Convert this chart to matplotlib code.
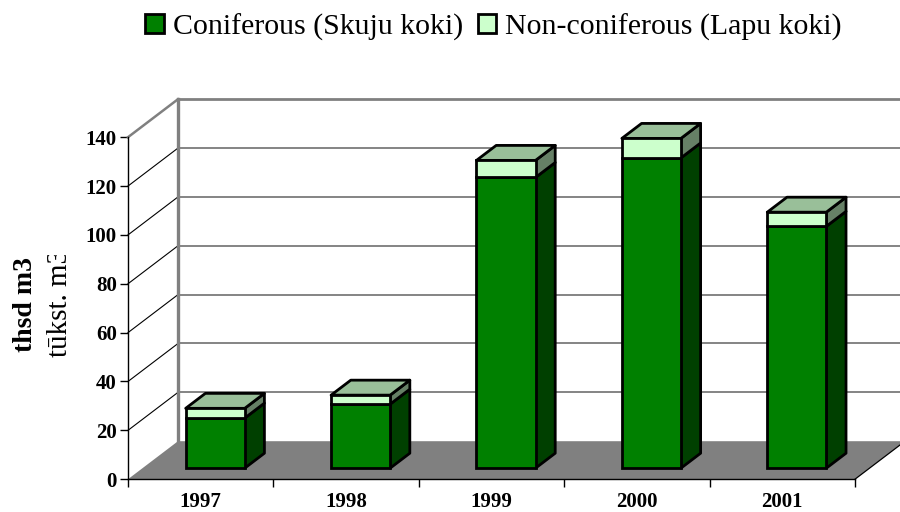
import numpy as np
import matplotlib
matplotlib.use('Agg')
import matplotlib.pyplot as plt
from matplotlib.patches import Patch, Rectangle

plt.rcParams['font.family'] = ['Liberation Serif', 'DejaVu Serif']

# Values (thousand m3)
years = ['1997', '1998', '1999', '2000', '2001']
coniferous = [20.5, 26.2, 119, 127, 99]
non_coniferous = [4.0, 3.7, 7.0, 8.0, 5.8]
y_ticks = [0, 20, 40, 60, 80, 100, 120, 140]

W, H = 900, 512
DX, DY = 50 / 145.4, 38 / 2.443   # depth of the box in data units
D_FRONT, D_BACK = 0.29, 0.684     # where bars sit inside the depth
BAR_W = 0.406

GREEN, GREEN_SIDE = '#008000', '#004000'
LIGHT, LIGHT_TOP, LIGHT_SIDE = '#CCFFCC', '#99BF99', '#668066'
GRAY = '#808080'

fig = plt.figure(figsize=(W / 100, H / 100), dpi=100)
ax = fig.add_axes([128 / W, (H - 479.2) / H, 727 / W, 342 / H])
ax.set_xlim(0, 5)
ax.set_ylim(0, 140)
ax.patch.set_visible(False)


def proj(x, y, d):
    return x + d * DX, y + d * DY


def face(pts, color, z, lw=2.0):
    xs, ys = zip(*[proj(*p) for p in pts])
    ax.fill(xs, ys, facecolor=color, edgecolor='black', linewidth=lw,
            joinstyle='round', clip_on=False, zorder=z)


# floor
fx, fy = zip(*[proj(0, 0, 0), proj(5, 0, 0), proj(5, 0, 1), proj(0, 0, 1)])
ax.fill(fx, fy, facecolor=GRAY, edgecolor='none', clip_on=False, zorder=1)
ax.plot([fx[1], fx[2]], [fy[1], fy[2]], color='black', lw=0.9, clip_on=False, zorder=1)

# walls and gridlines
x_end = 5.4
for v in y_ticks[1:]:
    bx, by = proj(0, v, 1)
    edge = GRAY if v == 140 else 'black'
    ax.plot([0, bx], [v, by], color=edge, lw=1.8 if v == 140 else 0.8, clip_on=False, zorder=2)
    ax.plot([bx, x_end], [by, by], color=GRAY if v == 140 else '#707070',
            lw=2.0 if v == 140 else 1.2, clip_on=False, zorder=2)
bx, by0 = proj(0, 0, 1)
ax.plot([bx, bx], [by0, by0 + 140], color=GRAY, lw=2.4, clip_on=False, zorder=2)

# bars
for i, (low, top) in enumerate(zip(coniferous, non_coniferous)):
    x0 = i + 0.5 - BAR_W / 2
    x1 = x0 + BAR_W
    fxl, base = proj(x0, 0, D_FRONT)
    total = low + top
    # right side faces, then lid
    face([(x1, 0, D_FRONT), (x1, 0, D_BACK), (x1, low, D_BACK), (x1, low, D_FRONT)], GREEN_SIDE, 4)
    face([(x1, low, D_FRONT), (x1, low, D_BACK), (x1, total, D_BACK), (x1, total, D_FRONT)], LIGHT_SIDE, 4)
    face([(x0, total, D_FRONT), (x1, total, D_FRONT), (x1, total, D_BACK), (x0, total, D_BACK)], LIGHT_TOP, 4)
    ax.bar(fxl, low, BAR_W, bottom=base, align='edge', color=GREEN, edgecolor='black',
           linewidth=2.0, clip_on=False, zorder=5)
    ax.bar(fxl, top, BAR_W, bottom=base + low, align='edge', color=LIGHT, edgecolor='black',
           linewidth=2.0, clip_on=False, zorder=5)

# axes
for side in ['top', 'right']:
    ax.spines[side].set_visible(False)
for side in ['left', 'bottom']:
    ax.spines[side].set_linewidth(1.0)
    ax.spines[side].set_zorder(3)
ax.set_yticks(y_ticks)
ax.set_yticklabels([str(v) for v in y_ticks], fontsize=15, fontweight='bold')
ax.set_xticks(range(6))
ax.set_xticklabels([])
ax.set_xticks(np.arange(5) + 0.5, labels=years, minor=True, fontsize=15, fontweight='bold')
ax.tick_params(axis='x', which='minor', length=0, pad=9.5)
ax.tick_params(axis='x', which='major', length=6, width=1)
ax.tick_params(axis='y', length=6, width=1, pad=2)

# axis titles, the second one cut off as in the source
fig.text(26 / W, 1 - 305 / H, 'thsd m3', rotation=90, ha='center', va='center',
         fontsize=20, fontweight='bold')
t = fig.text(60 / W, 1 - 357 / H, 'tūkst. m3', rotation=90, ha='center', va='bottom', fontsize=21)
t.set_clip_path(Rectangle((0, (H - 370) / H), 1, 115 / H, transform=fig.transFigure))
t.set_clip_on(True)

handles = [Patch(facecolor=GREEN, edgecolor='black', linewidth=2),
           Patch(facecolor=LIGHT, edgecolor='black', linewidth=2)]
fig.legend(handles, ['Coniferous (Skuju koki)', 'Non-coniferous (Lapu koki)'],
           loc='center', bbox_to_anchor=(493.5 / W, 1 - 27 / H), ncols=2, frameon=False,
           fontsize=21.5, handlelength=0.62, handleheight=0.62, handletextpad=0.3,
           columnspacing=0.5, borderpad=0)

fig.savefig('out.png', dpi=100)
